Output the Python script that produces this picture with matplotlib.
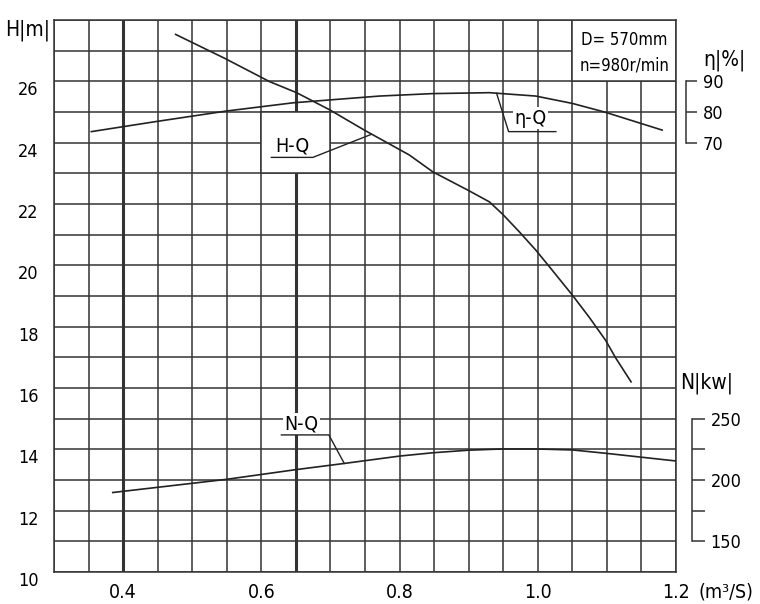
import matplotlib
matplotlib.use('Agg')
import matplotlib.pyplot as plt
from matplotlib.patches import Rectangle
from matplotlib import transforms
import numpy as np

plt.rcParams['font.family'] = ['DejaVu Sans']
plt.rcParams['font.stretch'] = 'condensed'

# ---- data ----
# H-Q (head, m)
q_head = [0.476, 0.547, 0.612, 0.651, 0.699, 0.749, 0.814, 0.848, 0.899, 0.930,
          0.949, 0.973, 0.997, 1.017, 1.050, 1.074, 1.098, 1.113, 1.135]
head = [27.53, 26.75, 25.99, 25.63, 25.07, 24.41, 23.60, 23.05, 22.45, 22.07,
        21.67, 21.10, 20.50, 19.95, 19.03, 18.32, 17.56, 16.97, 16.20]

# eta-Q (efficiency, %)
q_eta = [0.354, 0.448, 0.549, 0.646, 0.771, 0.848, 0.930, 0.997, 1.050, 1.098, 1.180]
eta = [73.6, 76.9, 80.3, 83.0, 85.2, 86.0, 86.3, 85.2, 82.8, 79.9, 74.1]

# N-Q (power, kW)
q_power = [0.385, 0.549, 0.648, 0.720, 0.800, 0.848, 0.900, 0.949, 0.997, 1.050, 1.098, 1.200]
power = [189.8, 200.5, 208.3, 213.5, 219.5, 222.2, 224.3, 225.3, 225.3, 224.5, 221.8, 215.5]

x_ticks = [0.4, 0.6, 0.8, 1.0, 1.2]
x_labels = ['0.4', '0.6', '0.8', '1.0', '1.2']
h_ticks = [10, 12, 14, 16, 18, 20, 22, 24, 26]
eta_ticks = [70, 80, 90]
n_ticks = [150, 200, 250]
n_minor = [175, 225]

GRID = '#333333'

fig = plt.figure(figsize=(7.6, 6.04), dpi=100)
ax = fig.add_axes([54/760, 32/604, 622/760, 552/604])

ax.set_xlim(0.3, 1.2)
ax.set_ylim(10, 28)
ax.set_xticks(x_ticks)
ax.set_xticklabels(x_labels)
ax.set_xticks(np.arange(0.3, 1.2001, 0.05), minor=True)
ax.set_yticks(h_ticks)
ax.set_yticks(np.arange(10, 28.001, 1), minor=True)
ax.tick_params(which='both', length=0)
ax.tick_params(axis='x', pad=8, labelsize=14)
ax.tick_params(axis='y', pad=11, labelsize=13)
ax.grid(which='both', color=GRID, lw=1.1)
ax.set_axisbelow(True)
for s in ax.spines.values():
    s.set_color(GRID)
    s.set_linewidth(1.1)

# thicker grid lines
ax.axvline(0.4, color=GRID, lw=2.2, zorder=0.6)
ax.axvline(0.65, color=GRID, lw=2.2, zorder=0.6)

# white boxes over the grid (label areas)
ax.add_patch(Rectangle((1.05, 26), 0.15, 2, facecolor='white', edgecolor=GRID, lw=1.1, zorder=1))
ax.add_patch(Rectangle((0.6, 23), 0.1, 2, facecolor='white', edgecolor=GRID, lw=1.1, zorder=1))

# curves
ax.plot(q_head, head, color='#222222', lw=1.2, zorder=3)

ax_eta = ax.twinx()
ax_eta.set_ylim(-70, 110)
ax_eta.plot(q_eta, eta, color='#222222', lw=1.2, zorder=3)

ax_n = ax.twinx()
ax_n.set_ylim(125, 575)
ax_n.plot(q_power, power, color='#222222', lw=1.2, zorder=3)

for a, out, bounds, ticks, tl in [(ax_eta, 7.2, (70, 90), eta_ticks, 7.9),
                                  (ax_n, 11.5, (150, 250), n_ticks, 9.4)]:
    for side in ['left', 'top', 'bottom']:
        a.spines[side].set_visible(False)
    a.spines['right'].set_position(('outward', out))
    a.spines['right'].set_bounds(*bounds)
    a.spines['right'].set_color(GRID)
    a.spines['right'].set_linewidth(1.1)
    a.set_yticks(ticks)
    a.tick_params(axis='y', which='both', length=tl, width=1.1, color=GRID,
                  pad=4, labelsize=13)
ax_n.set_yticks(n_minor, minor=True)

# curve labels with leaders
ax.text(0.645, 23.9, 'H-Q', fontsize=14, ha='center', va='center', zorder=4)
ax.plot([0.6145, 0.6746, 0.759], [23.52, 23.52, 24.27], color='#222222', lw=1.0, zorder=4)

ax.text(0.990, 24.8, 'η-Q', fontsize=14, ha='center', va='center', zorder=4,
        bbox=dict(facecolor='white', edgecolor='none', pad=1))
ax.plot([0.9404, 0.9578, 1.0262], [25.61, 24.36, 24.36], color='#222222', lw=1.0, zorder=4)

ax.text(0.658, 14.83, 'N-Q', fontsize=14, ha='center', va='center', zorder=4,
        bbox=dict(facecolor='white', edgecolor='none', pad=1))
ax.plot([0.629, 0.6977, 0.720], [14.47, 14.47, 13.54], color='#222222', lw=1.0, zorder=4)

ax.text(1.125, 27.35, 'D= 570mm', fontsize=12, ha='center', va='center', zorder=4)
ax.text(1.125, 26.5, 'n=980r/min', fontsize=12, ha='center', va='center', zorder=4)

# axis titles
fig.text(5/760, 1 - 30/604, 'H|m|', fontsize=15, ha='left', va='center')
fig.text(703/760, 1 - 60/604, 'η|%|', fontsize=15, ha='left', va='center')
fig.text(680/760, 1 - 383/604, 'N|kw|', fontsize=15, ha='left', va='center')
fig.text(698/760, 1 - 592/604, '(m³/S)', fontsize=14, ha='left', va='center')

# left labels sit a little below their grid lines
offset = transforms.ScaledTranslation(0, -7/100, fig.dpi_scale_trans)
for lbl in ax.get_yticklabels():
    lbl.set_transform(lbl.get_transform() + offset)

fig.savefig('out.png', dpi=100)
